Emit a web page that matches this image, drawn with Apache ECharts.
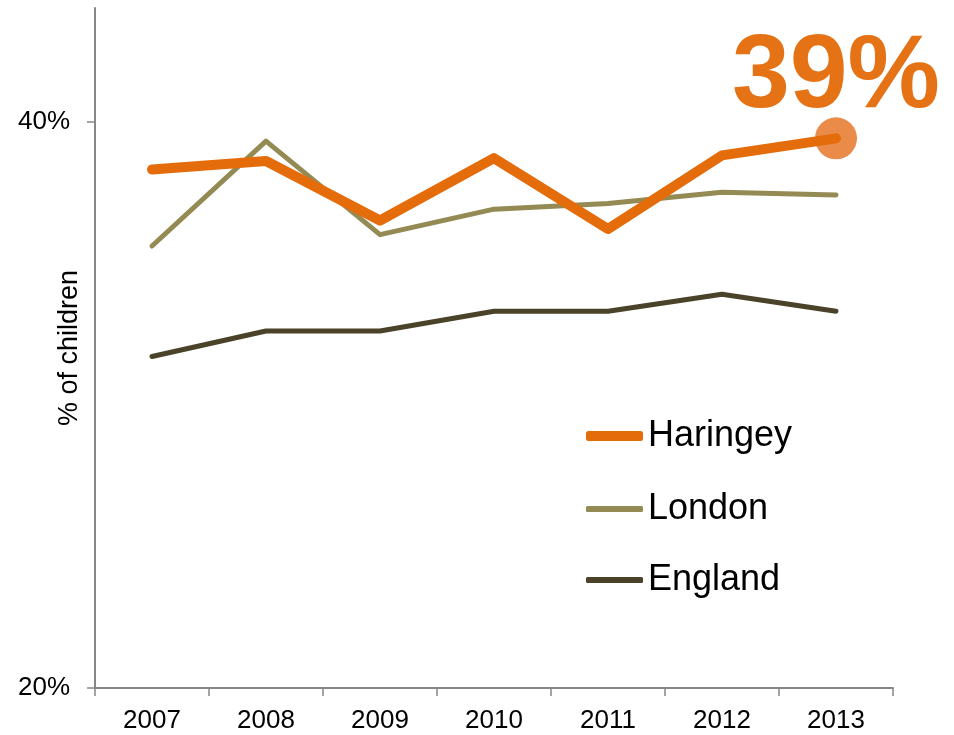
<!DOCTYPE html>
<html>
<head>
<meta charset="utf-8">
<script src="https://cdn.jsdelivr.net/npm/echarts@6/dist/echarts.min.js"></script>
<style>
html,body{margin:0;padding:0;background:#fff;}
#c{width:954px;height:735px;}
</style>
</head>
<body>
<div id="c"></div>
<script>
const years = ['2007','2008','2009','2010','2011','2012','2013'];
const haringey = [38.3, 38.6, 36.5, 38.7, 36.2, 38.8, 39.4];
const london = [35.6, 39.3, 36.0, 36.9, 37.1, 37.5, 37.4];
const england = [31.7, 32.6, 32.6, 33.3, 33.3, 33.9, 33.3];
const highlightLabel = '39%';

const FONT = 'Liberation Sans, Arial, sans-serif';
const cOrange = '#E46C0A';
const cLondon = '#948A54';
const cEngland = '#4A4229';

const chart = echarts.init(document.getElementById('c'));

function legendFor(name, top, h){
  return {
    data:[{name:name}],
    left: 586, top: top,
    orient:'vertical',
    icon:'roundRect',
    itemWidth:57, itemHeight:h,
    itemGap:0,
    padding:0,
    textStyle:{fontFamily:FONT, fontSize:36, color:'#000', padding:[0,0,0,0]},
    selectedMode:false
  };
}

chart.setOption({
  animation:false,
  grid:{left:95, right:61, top:8, bottom:47, containLabel:false, outerBoundsMode:'none'},
  legend:[
    legendFor('Haringey', 418, 10),
    legendFor('London', 491, 6),
    legendFor('England', 562, 6)
  ],
  xAxis:{
    type:'category',
    data:years,
    boundaryGap:true,
    axisLine:{lineStyle:{color:'#868686', width:2}},
    axisTick:{show:true, length:8, lineStyle:{color:'#868686', width:1.5}},
    axisLabel:{fontFamily:FONT, fontSize:26, color:'#000', margin:20}
  },
  yAxis:{
    type:'value',
    min:20, max:44, interval:20,
    name:'% of children',
    nameLocation:'middle',
    nameGap:12,
    nameMoveOverlap:false,
    nameTextStyle:{fontFamily:FONT, fontSize:27, color:'#000'},
    splitLine:{show:false},
    axisLine:{show:true, lineStyle:{color:'#868686', width:2}},
    axisTick:{show:true, length:8, lineStyle:{color:'#868686', width:1.5}},
    axisLabel:{fontFamily:FONT, fontSize:26, color:'#000', margin:25,
      showMaxLabel:false,
      formatter:function(v){ return (v===20||v===40)? v+'%' : ''; }}
  },
  series:[
    {
      name:'England', type:'line', data:england,
      symbol:'none', z:3,
      lineStyle:{color:cEngland, width:5, cap:'round', join:'round'},
      itemStyle:{color:cEngland}
    },
    {
      name:'London', type:'line', data:london,
      symbol:'none', z:4,
      lineStyle:{color:cLondon, width:5, cap:'round', join:'round'},
      itemStyle:{color:cLondon}
    },
    {
      name:'Haringey', type:'line', data:haringey,
      symbol:'none', z:5,
      lineStyle:{color:cOrange, width:10, cap:'round', join:'round'},
      itemStyle:{color:cOrange},
      markPoint:{
        symbol:'circle', symbolSize:42,
        data:[{coord:[6, haringey[6]]}],
        itemStyle:{color:'#E98540', opacity:0.95},
        label:{show:true, position:'top', distance:0, offset:[0,13],
          formatter:highlightLabel,
          fontFamily:FONT, fontWeight:'bold', fontSize:104, color:cOrange}
      }
    }
  ]
});
</script>
</body>
</html>
